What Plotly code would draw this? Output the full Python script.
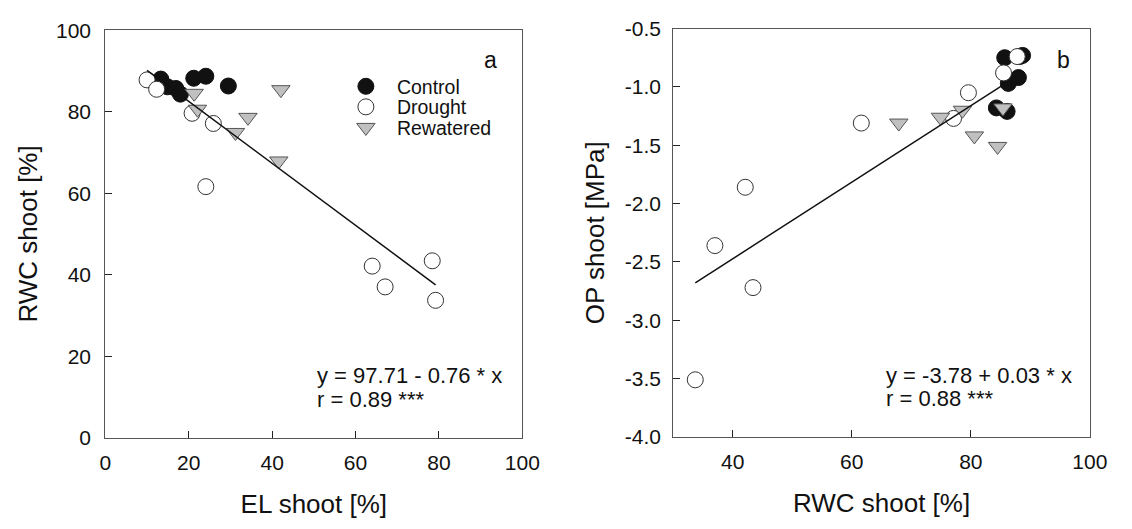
import plotly.graph_objects as go
import numpy as np

# ---------------- Panel a: RWC shoot vs EL shoot ----------------
ctrl_el = [13.3, 14.9, 16.9, 18.0, 21.2, 24.1, 29.5]
ctrl_rwc = [88.0, 86.1, 85.7, 84.3, 88.2, 88.7, 86.3]
dro_el = [10.0, 12.3, 20.8, 25.9, 24.1, 64.0, 67.1, 78.4, 79.2]
dro_rwc = [87.8, 85.5, 79.6, 77.1, 61.6, 42.1, 37.0, 43.4, 33.7]
rew_el = [21.3, 22.1, 42.1, 34.2, 31.2, 41.6]
rew_rwc = [84.5, 80.6, 85.4, 78.6, 74.9, 67.9]
fit_a = (97.71, -0.76)

# ---------------- Panel b: OP shoot vs RWC shoot ----------------
ctrl_op = [-0.92, -1.21, -0.75, -1.18, -0.74, -0.73, -0.97]
dro_op = [-0.74, -0.88, -1.05, -1.27, -1.31, -1.86, -2.36, -2.72, -3.51]
rew_op = [-1.51, -1.42, -1.18, -1.20, -1.26, -1.31]
fit_b = (-3.785, 0.0328)

xa_ticks = [0, 20, 40, 60, 80, 100]
ya_ticks = [0, 20, 40, 60, 80, 100]
xb_ticks = [40, 60, 80, 100]
yb_ticks = [-4.0, -3.5, -3.0, -2.5, -2.0, -1.5, -1.0, -0.5]
yb_labels = ["-4.0", "-3.5", "-3.0", "-2.5", "-2.0", "-1.5", "-1.0", "-0.5"]

FONT = "Liberation Sans, Arial, sans-serif"
INK = "#111111"
BLACK_M = dict(symbol="circle", size=16, color=INK, line=dict(color=INK, width=1))
OPEN_M = dict(symbol="circle", size=16, color="white", line=dict(color="#333333", width=1))
TRI_M = dict(symbol="triangle-down", size=16, color="#c0c0c0", line=dict(color="#555555", width=1))

W, H = 1132, 529


def px(x):
    return x / W


def py(y):
    return 1 - y / H


fig = go.Figure()

# Panel a
fig.add_trace(go.Scatter(x=ctrl_el, y=ctrl_rwc, mode="markers", marker=BLACK_M, name="Control",
                         legend="legend", xaxis="x", yaxis="y"))
fig.add_trace(go.Scatter(x=dro_el, y=dro_rwc, mode="markers", marker=OPEN_M, name="Drought",
                         legend="legend2", xaxis="x", yaxis="y"))
fig.add_trace(go.Scatter(x=rew_el, y=rew_rwc, mode="markers", marker=TRI_M, name="Rewatered",
                         legend="legend3", xaxis="x", yaxis="y"))
all_el = ctrl_el + dro_el + rew_el
xa = np.array([min(all_el), max(all_el)])
fig.add_trace(go.Scatter(x=xa, y=fit_a[0] + fit_a[1] * xa, mode="lines",
                         line=dict(color=INK, width=1.5), showlegend=False,
                         xaxis="x", yaxis="y"))

# Panel b
fig.add_trace(go.Scatter(x=ctrl_rwc, y=ctrl_op, mode="markers", marker=BLACK_M, showlegend=False,
                         xaxis="x2", yaxis="y2"))
fig.add_trace(go.Scatter(x=dro_rwc, y=dro_op, mode="markers", marker=OPEN_M, showlegend=False,
                         xaxis="x2", yaxis="y2"))
fig.add_trace(go.Scatter(x=rew_rwc, y=rew_op, mode="markers", marker=TRI_M, showlegend=False,
                         xaxis="x2", yaxis="y2"))
all_rwc = ctrl_rwc + dro_rwc + rew_rwc
xb = np.array([min(all_rwc), max(all_rwc)])
fig.add_trace(go.Scatter(x=xb, y=fit_b[0] + fit_b[1] * xb, mode="lines",
                         line=dict(color=INK, width=1.5), showlegend=False,
                         xaxis="x2", yaxis="y2"))

axis_common = dict(showline=True, linecolor="#555555", linewidth=1.2, mirror=True,
                   ticks="inside", ticklen=7, tickcolor="#222222", tickwidth=1.2,
                   showgrid=False, zeroline=False,
                   tickfont=dict(family=FONT, size=21, color=INK),
                   title_font=dict(family=FONT, size=26, color=INK))

leg_common = dict(xanchor="left", yanchor="middle", bgcolor="rgba(0,0,0,0)",
                  font=dict(family=FONT, size=19.5, color=INK), itemwidth=52,
                  borderwidth=0)

LEG_X = px(336)

fig.update_layout(
    width=W, height=H,
    margin=dict(l=0, r=0, t=0, b=0),
    paper_bgcolor="white", plot_bgcolor="white",
    showlegend=True,
    legend=dict(x=LEG_X, y=py(78), **leg_common),
    legend2=dict(x=LEG_X, y=py(99.5), **leg_common),
    legend3=dict(x=LEG_X, y=py(121), **leg_common),
    xaxis=dict(domain=[px(101.5), px(527.5)], range=[0, 100], tickvals=xa_ticks,
               ticklabelstandoff=6, anchor="y",
               title=dict(text="EL shoot [%]", standoff=21), **axis_common),
    yaxis=dict(domain=[py(445), py(19)], range=[0, 100], tickvals=ya_ticks,
               ticklabelstandoff=9, anchor="x",
               title=dict(text="RWC shoot [%]", standoff=10), **axis_common),
    xaxis2=dict(domain=[px(681.7), px(1107.3)], range=[30, 100], tickvals=xb_ticks,
                ticklabelstandoff=6, anchor="y2",
                title=dict(text="RWC shoot [%]", standoff=21), **axis_common),
    yaxis2=dict(domain=[py(444.3), py(17.3)], range=[-4.0, -0.5],
                tickvals=yb_ticks, ticktext=yb_labels, anchor="x2",
                ticklabelstandoff=7,
                title=dict(text="OP shoot [MPa]", standoff=12), **axis_common),
    annotations=[
        dict(text="a", x=px(495), y=py(50), xref="paper", yref="paper", showarrow=False,
             xanchor="center", yanchor="middle",
             font=dict(family=FONT, size=23, color=INK)),
        dict(text="b", x=px(1080), y=py(50), xref="paper", yref="paper", showarrow=False,
             xanchor="center", yanchor="middle",
             font=dict(family=FONT, size=23, color=INK)),
        dict(text="y = 97.71 - 0.76 * x", x=px(316), y=py(380), xref="paper",
             yref="paper", xanchor="left", yanchor="middle", align="left", showarrow=False,
             font=dict(family=FONT, size=22, color=INK)),
        dict(text="r = 0.89 ***", x=px(316), y=py(405), xref="paper",
             yref="paper", xanchor="left", yanchor="middle", align="left", showarrow=False,
             font=dict(family=FONT, size=22, color=INK)),
        dict(text="y = -3.78 + 0.03 * x", x=px(897), y=py(380), xref="paper",
             yref="paper", xanchor="left", yanchor="middle", align="left", showarrow=False,
             font=dict(family=FONT, size=22, color=INK)),
        dict(text="r = 0.88 ***", x=px(897), y=py(404), xref="paper",
             yref="paper", xanchor="left", yanchor="middle", align="left", showarrow=False,
             font=dict(family=FONT, size=22, color=INK)),
    ],
)

fig.write_html("out.html", post_script="document.body.style.margin='0px';",
               config={"displayModeBar": False})
